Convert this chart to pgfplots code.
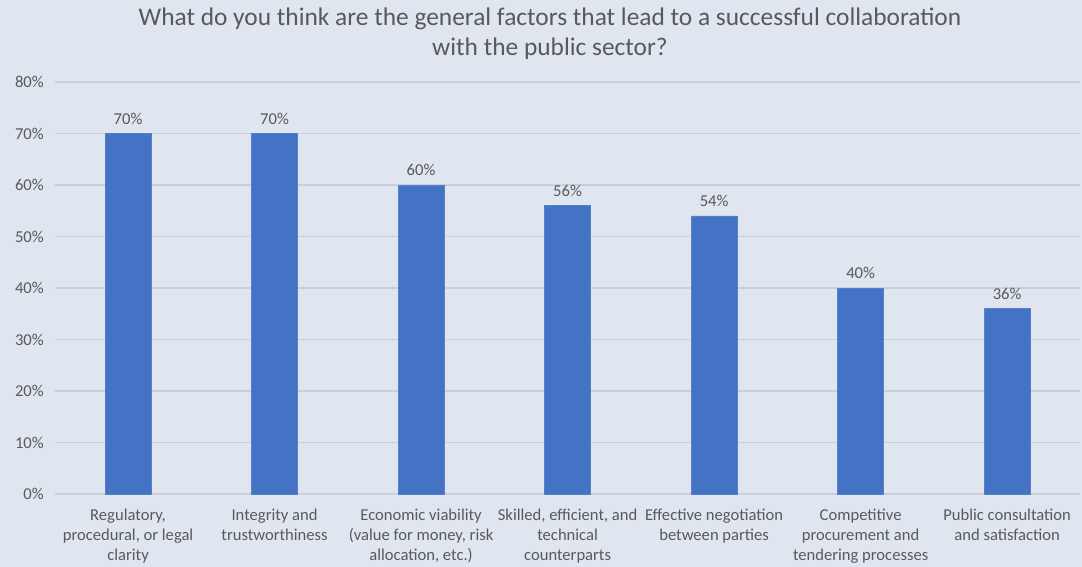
\documentclass[border=0pt]{standalone}
\usepackage{fontspec}
\setmainfont{Carlito}
\usepackage{pgfplots}
\pgfplotsset{compat=1.18}
\definecolor{bg}{HTML}{DFE6F0}
\definecolor{gridc}{HTML}{C8CFD9}
\definecolor{barc}{HTML}{4472C4}
\definecolor{txt}{HTML}{595959}
\begin{document}
\begin{tikzpicture}[x=1pt,y=1pt]
\fill[bg] (0,0) rectangle (541,283.5);
\useasboundingbox (0,0) rectangle (541,283.5);
\node[text=txt, font=\fontsize{12.7}{15}\selectfont, align=center] at (275,266.5) {What do you think are the general factors that lead to a successful collaboration\\with the public sector?};
\begin{axis}[
  at={(27.4pt,36.5pt)}, anchor=south west,
  scale only axis, width=512.8pt, height=206pt,
  xmin=-0.5, xmax=6.5, ymin=0, ymax=80,
  axis line style={draw=none},
  major tick length=0pt,
  ymajorgrids, grid style={gridc, line width=0.6pt},
  ytick={0,10,...,80},
  yticklabel={\pgfmathprintnumber{\tick}\%},
  /pgf/number format/assume math mode=true,
  yticklabel style={text=txt, font=\fontsize{8.3}{10}\selectfont, anchor=east, xshift=-2pt},
  xtick={0,...,6},
  xticklabels={{Regulatory,\\procedural, or legal\\clarity},
    {Integrity and\\trustworthiness},
    {Economic viability\\(value for money, risk\\allocation, etc.)},
    {Skilled, efficient, and\\technical\\counterparts},
    {Effective negotiation\\between parties},
    {Competitive\\procurement and\\tendering processes},
    {Public consultation\\and satisfaction}},
  xticklabel style={text=txt, font=\fontsize{8.3}{10}\selectfont, align=center, anchor=north, yshift=-4pt},
  ybar, bar width=23pt,
  nodes near coords={\pgfmathprintnumber{\pgfplotspointmeta}\%},
  nodes near coords style={text=txt, font=\fontsize{8.3}{10}\selectfont, yshift=1pt},
  clip=false,
]
\addplot[fill=barc, draw=barc!90!white, line width=0.4pt] coordinates {
(0,70) (1,70) (2,60) (3,56) (4,54) (5,40) (6,36)};
\end{axis}
\end{tikzpicture}
\end{document}
